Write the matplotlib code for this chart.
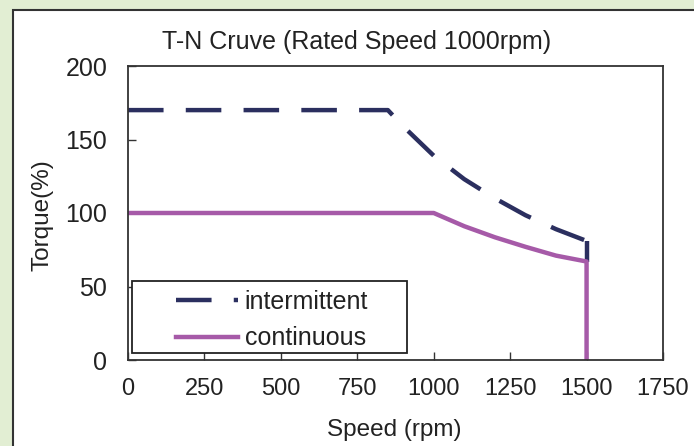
import matplotlib.pyplot as plt
from matplotlib.patches import Rectangle

plt.rcParams['font.family'] = ['Liberation Sans', 'DejaVu Sans']

# intermittent torque curve
speed_int = [0, 850, 900, 1000, 1100, 1200, 1300, 1400, 1500, 1500]
torque_int = [170, 170, 159, 139, 123, 110, 98.5, 89, 81, 67]

# continuous torque curve
speed_cont = [0, 1000, 1100, 1200, 1300, 1400, 1500, 1500]
torque_cont = [100, 100, 91, 83.5, 77, 71, 67, 0]

xticks = [0, 250, 500, 750, 1000, 1250, 1500, 1750]
yticks = [0, 50, 100, 150, 200]

W, H = 694, 446
fig = plt.figure(figsize=(W / 100, H / 100), dpi=100)
fig.patch.set_facecolor('#e2eed3')

# white chart panel with dark border
panel = Rectangle((13 / W, -0.1), 1.0, 1.1 - 10 / H, transform=fig.transFigure,
                  facecolor='white', edgecolor='#333333', linewidth=1.5, zorder=-10)
fig.patches.append(panel)

ax = fig.add_axes([128 / W, 1 - 360 / H, (663 - 128) / W, (360 - 66) / H])
ax.set_facecolor('white')

navy = '#2b2f5f'
ax.plot(speed_int, torque_int, color=navy, linewidth=3.2,
        linestyle=(0, (8, 5)), label='intermittent', solid_capstyle='butt')
# the short drop at max speed shows as one dash
ax.plot(speed_int[-2:], torque_int[-2:], color=navy, linewidth=3.2,
        solid_capstyle='butt')
ax.plot(speed_cont, torque_cont, color='#a65aa8', linewidth=3.2,
        label='continuous')

ax.set_xlim(0, 1750)
ax.set_ylim(0, 200)
ax.set_xticks(xticks)
ax.set_yticks(yticks)
ax.tick_params(direction='in', length=6, width=1, colors='#333333',
               labelcolor='#222222')
ax.tick_params(axis='x', labelsize=17, pad=13)
ax.tick_params(axis='y', labelsize=18, pad=15)
for s in ax.spines.values():
    s.set_color('#333333')
    s.set_linewidth(1.3)

fig.text(357 / W, 1 - 42 / H, 'T-N Cruve (Rated Speed 1000rpm)',
         ha='center', va='center', fontsize=18, color='#222222')
fig.text(394 / W, 1 - 430 / H, 'Speed (rpm)', ha='center', va='center',
         fontsize=17.5, color='#222222')
fig.text(42 / W, 1 - 215 / H, 'Torque(%)', ha='center', va='center',
         rotation=90, fontsize=17.5, color='#222222')

# legend box
box = Rectangle(((132 - 128) / 535, (360 - 353) / 294), (407 - 132) / 535,
                (353 - 281) / 294, transform=ax.transAxes, facecolor='white',
                edgecolor='#222222', linewidth=1.3, zorder=5)
ax.add_patch(box)
leg = ax.legend(loc='center left', bbox_to_anchor=((176 - 128) / 535, (360 - 320) / 294),
                frameon=False, fontsize=18, handlelength=2.5, handletextpad=0.25,
                labelspacing=0.5, borderaxespad=0, borderpad=0)
leg.set_zorder(6)
for t in leg.get_texts():
    t.set_color('#222222')

fig.savefig('out.png', dpi=100, facecolor=fig.get_facecolor())
